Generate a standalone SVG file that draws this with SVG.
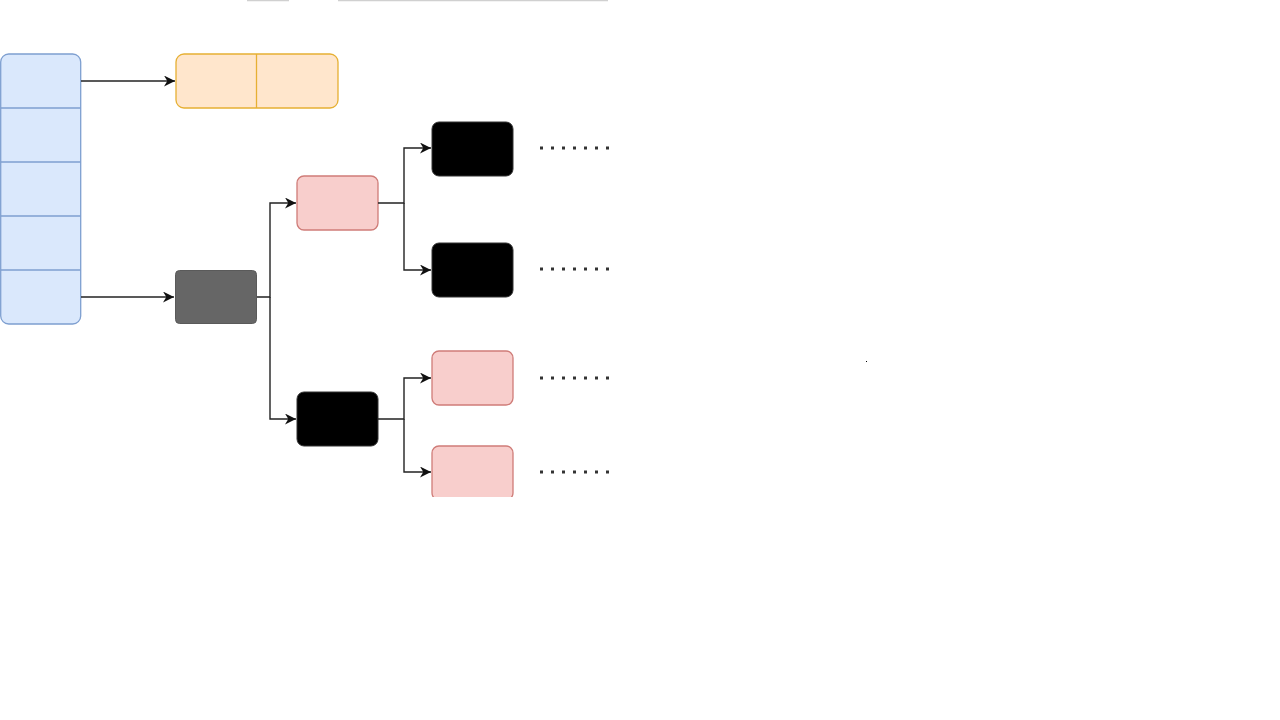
<svg xmlns="http://www.w3.org/2000/svg" width="1280" height="720" viewBox="0 0 1280 720">
<style>
.blue{fill:#dae8fc;stroke:#7e9fd0;stroke-width:1.3}
.orange{fill:#ffe6cc;stroke:#e6b033;stroke-width:1.3}
.pink{fill:#f8cecc;stroke:#cf7c78;stroke-width:1.3}
.dark{fill:#666666;stroke:#5a5a5a;stroke-width:1}
.black{fill:#000000;stroke:#333333;stroke-width:1}
.conn{fill:none;stroke:#222222;stroke-width:1.4}
.dots{fill:none;stroke:#333333;stroke-width:3;stroke-dasharray:3 8;stroke-linecap:butt}
</style>
<defs>
<marker id="arr" viewBox="0 0 10 10" refX="10" refY="5" markerWidth="11" markerHeight="11" markerUnits="userSpaceOnUse" orient="auto">
<path d="M0,0 L10,5 L0,10 L3,5 Z" fill="#111111"/>
</marker>
<clipPath id="clip"><rect x="0" y="0" width="1280" height="497"/></clipPath>
</defs>
<rect width="1280" height="720" fill="#ffffff"/>
<g id="toplines">
<line x1="247" y1="0.5" x2="289" y2="0.5" stroke="#d0d0d0" stroke-width="1.5"/>
<line x1="338" y1="0.5" x2="608" y2="0.5" stroke="#d0d0d0" stroke-width="1.5"/>
</g>
<g clip-path="url(#clip)">
<g id="array">
<rect class="blue" x="0.7" y="54" width="80" height="270" rx="8"/>
<line x1="0.7" y1="108" x2="80.7" y2="108" stroke="#7e9fd0" stroke-width="1.3"/>
<line x1="0.7" y1="162" x2="80.7" y2="162" stroke="#7e9fd0" stroke-width="1.3"/>
<line x1="0.7" y1="216" x2="80.7" y2="216" stroke="#7e9fd0" stroke-width="1.3"/>
<line x1="0.7" y1="270" x2="80.7" y2="270" stroke="#7e9fd0" stroke-width="1.3"/>
</g>
<g id="pair">
<rect class="orange" x="176" y="54" width="162" height="54" rx="8"/>
<line x1="256.5" y1="54" x2="256.5" y2="108" stroke="#e6b033" stroke-width="1.3"/>
</g>
<g id="root">
<rect class="dark" x="175.5" y="270.5" width="81" height="53" rx="4"/>
</g>
<g id="n1"><rect class="pink" x="297" y="176" width="81" height="54" rx="7"/></g>
<g id="n2"><rect class="black" x="297" y="392" width="81" height="54" rx="7"/></g>
<g id="n3"><rect class="black" x="432" y="122" width="81" height="54" rx="7"/></g>
<g id="n4"><rect class="black" x="432" y="243" width="81" height="54" rx="7"/></g>
<g id="n5"><rect class="pink" x="432" y="351" width="81" height="54" rx="7"/></g>
<g id="n6"><rect class="pink" x="432" y="446" width="81" height="54" rx="7"/></g>
<g id="connectors">
<path class="conn" d="M81,81 H175" marker-end="url(#arr)"/>
<path class="conn" d="M81,297 H174" marker-end="url(#arr)"/>
<path class="conn" d="M257,297 H270 V203 H296" marker-end="url(#arr)"/>
<path class="conn" d="M270,297 V419 H296" marker-end="url(#arr)"/>
<path class="conn" d="M378,203 H404 V148 H431" marker-end="url(#arr)"/>
<path class="conn" d="M404,203 V270 H431" marker-end="url(#arr)"/>
<path class="conn" d="M378,419 H404 V378 H431" marker-end="url(#arr)"/>
<path class="conn" d="M404,419 V472 H431" marker-end="url(#arr)"/>
</g>
<g id="ellipses">
<line class="dots" x1="540" y1="148" x2="610" y2="148"/>
<line class="dots" x1="540" y1="269" x2="610" y2="269"/>
<line class="dots" x1="540" y1="378" x2="610" y2="378"/>
<line class="dots" x1="540" y1="472" x2="610" y2="472"/>
</g>
</g>
<rect x="866" y="361" width="1" height="1" fill="#000000"/>
</svg>
